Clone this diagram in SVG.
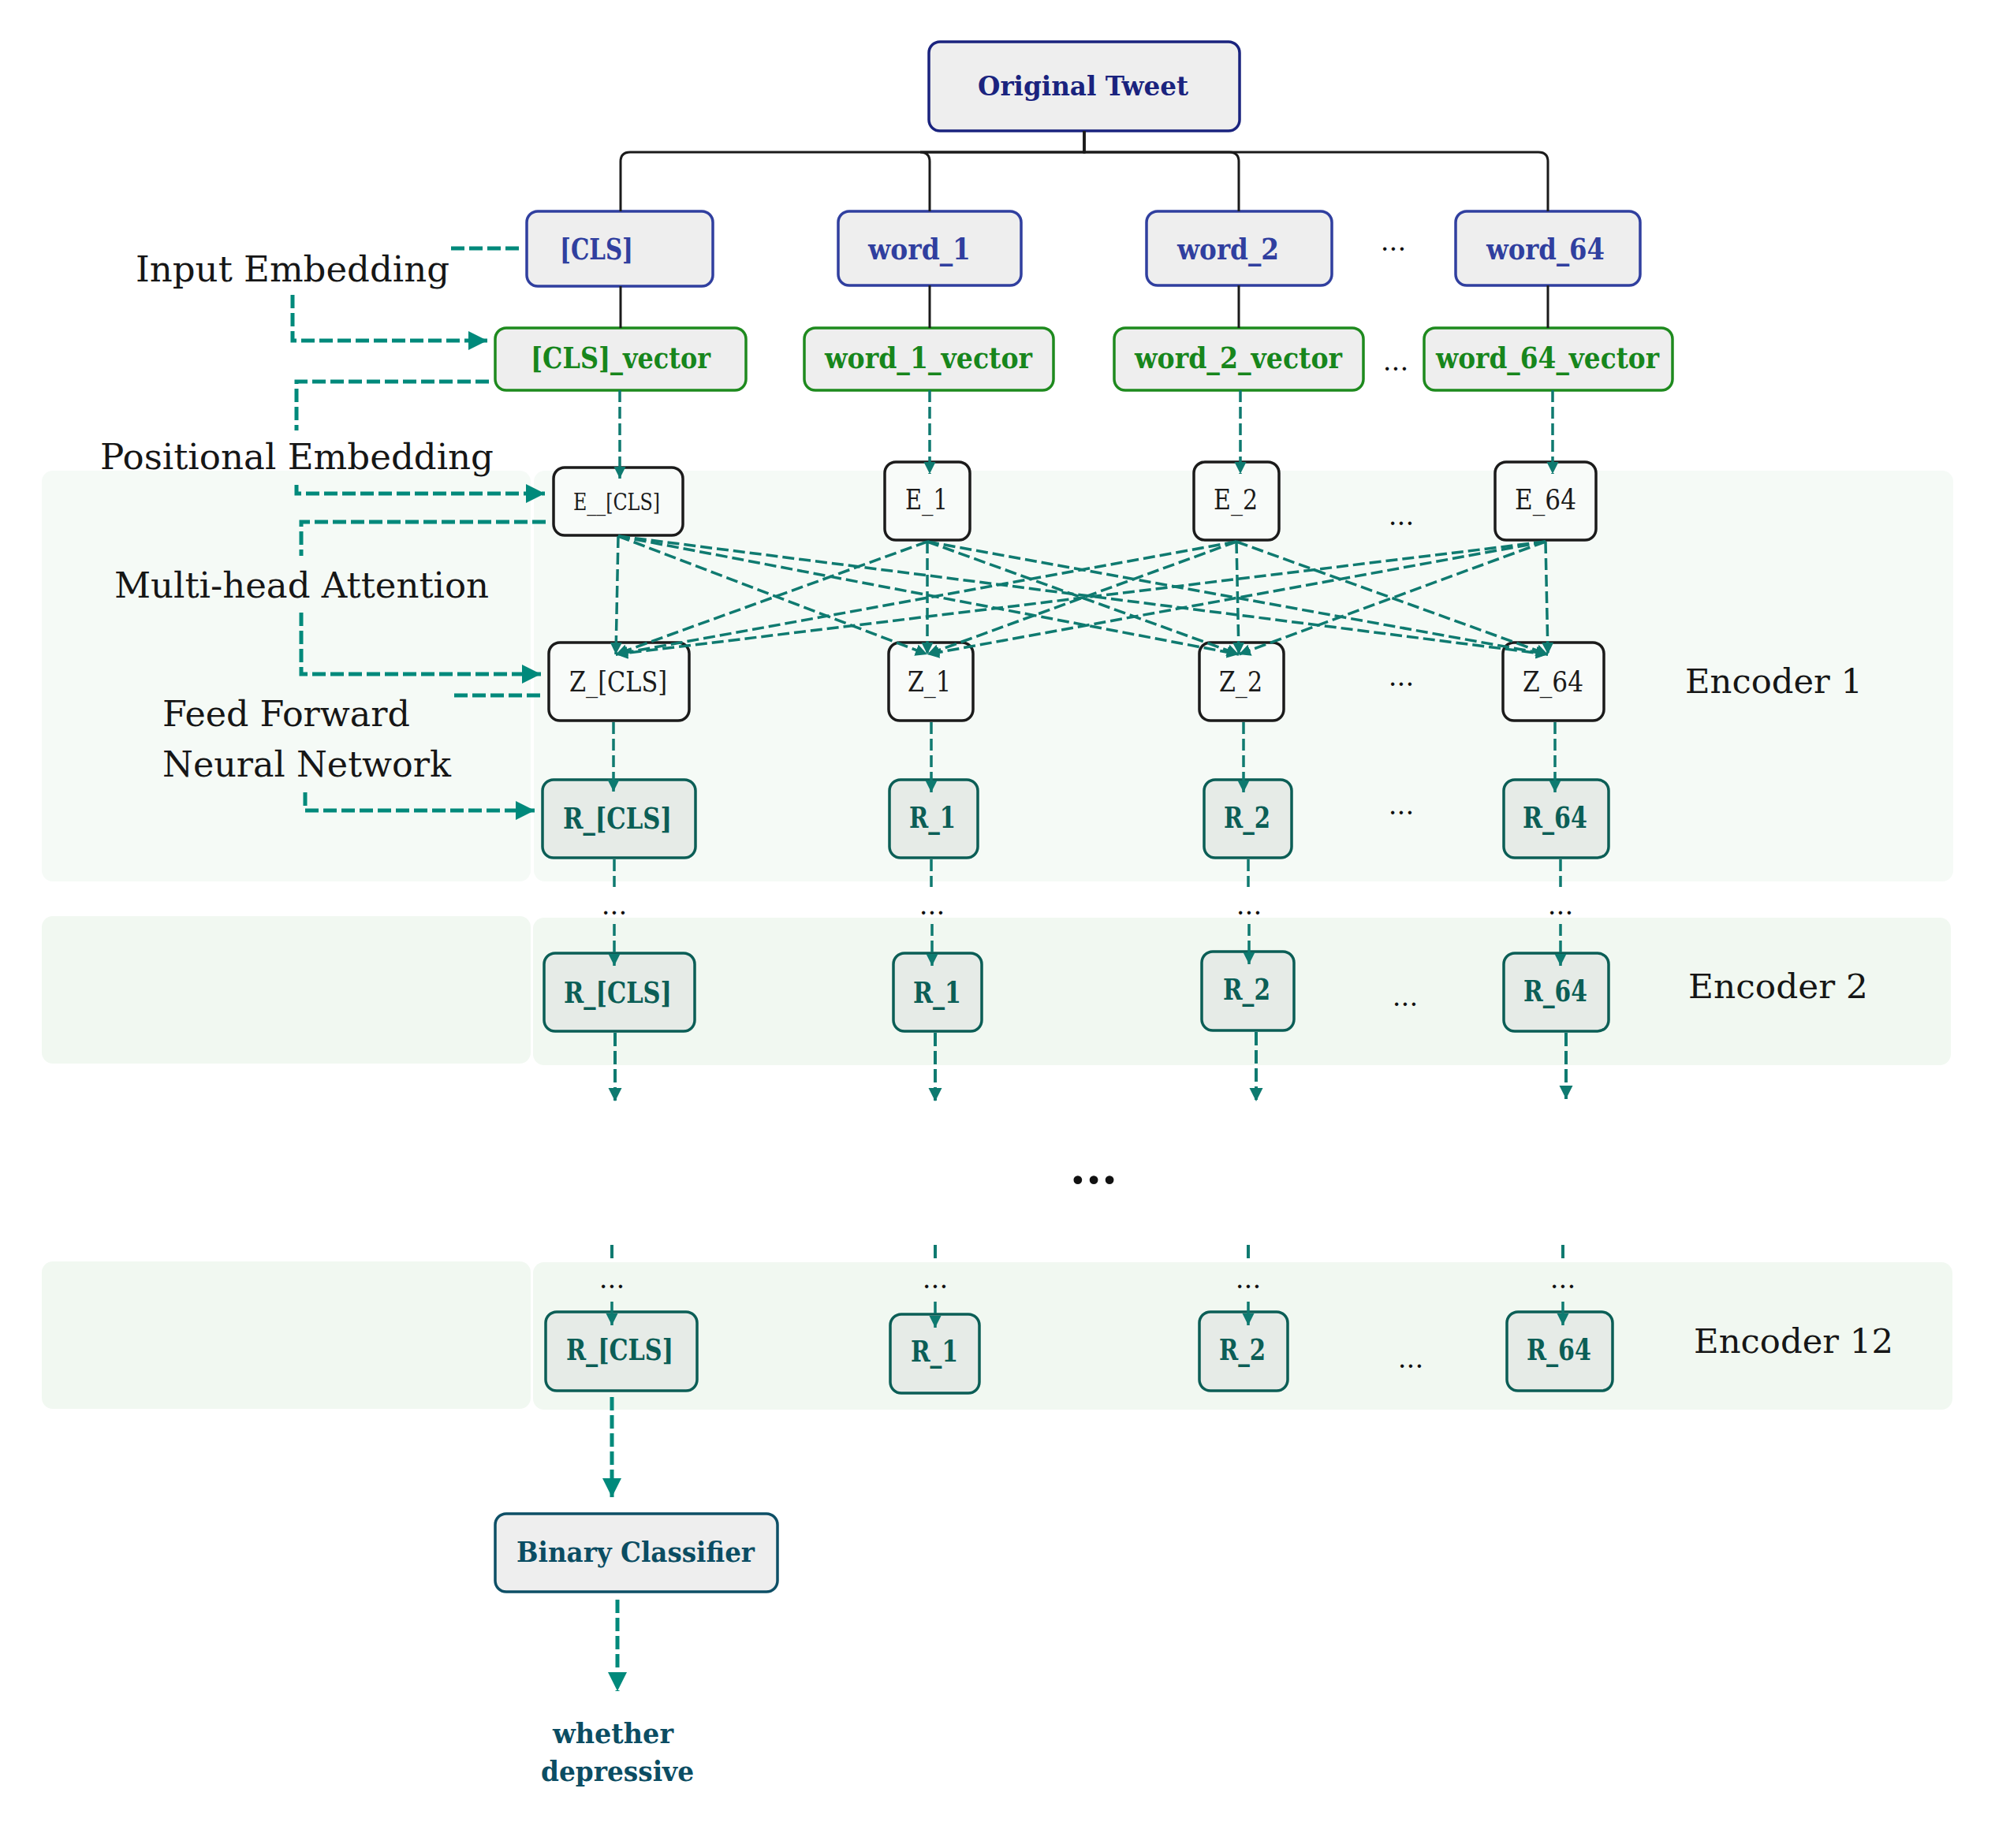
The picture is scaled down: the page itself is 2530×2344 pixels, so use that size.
<svg xmlns="http://www.w3.org/2000/svg" width="2530" height="2344" viewBox="0 0 2530 2344">
  <defs>
    <style>
      text { font-family: "DejaVu Serif", "Liberation Serif", serif; }
      .lbl { font-size: 45px; fill: #161616; }
      .enc { font-size: 42px; fill: #161616; }
      .dots { font-size: 34px; fill: #111111; text-anchor: middle; }
      .panel1 { fill: #f5faf6; }
      .panel2 { fill: #f1f8f1; }
      .tweet rect { fill: #eeeeee; stroke: #1a237e; stroke-width: 3.5; }
      .tweet text { fill: #1a237e; font-size: 34px; font-weight: bold; }
      .word rect { fill: #eeeeee; stroke: #303f9f; stroke-width: 3.5; }
      .word text { fill: #303f9f; font-size: 37px; font-weight: bold; }
      .vec rect { fill: #eeeeee; stroke: #1e8a1e; stroke-width: 3.5; }
      .vec text { fill: #17861c; font-size: 37px; font-weight: bold; }
      .ez rect { fill: #f8fbf9; stroke: #1b1b1b; stroke-width: 3.5; }
      .ez text { fill: #1b1b1b; font-size: 35px; }
      .r rect { fill: #e6ebe7; stroke: #0b5e56; stroke-width: 3.5; }
      .r text { fill: #0b5e56; font-size: 37px; font-weight: bold; }
      .bc rect { fill: #eeeeee; stroke: #0d4f66; stroke-width: 3.5; }
      .bc text, .out { fill: #0b4d63; font-size: 36px; font-weight: bold; }
      .tree { stroke: #1b1b1b; stroke-width: 3; fill: none; }
      .thin { stroke: #0f7a70; stroke-width: 3.5; stroke-dasharray: 15 6; fill: none; }
      .mid { stroke: #0f7a70; stroke-width: 4; stroke-dasharray: 17 6; fill: none; }
      .thick { stroke: #00897b; stroke-width: 5; stroke-dasharray: 17 6; fill: none; }
    </style>
    <marker id="arrS" markerUnits="userSpaceOnUse" markerWidth="16" markerHeight="16" refX="15" refY="7.5" orient="auto">
      <path d="M0,0 L15,7.5 L0,15 z" fill="#0e7a70"/>
    </marker>
    <marker id="arrM" markerUnits="userSpaceOnUse" markerWidth="18" markerHeight="18" refX="17" refY="8.5" orient="auto">
      <path d="M0,0 L17,8.5 L0,17 z" fill="#0e7a70"/>
    </marker>
    <marker id="arrL" markerUnits="userSpaceOnUse" markerWidth="25" markerHeight="25" refX="24" refY="12" orient="auto">
      <path d="M0,0 L24,12 L0,24 z" fill="#00897b"/>
    </marker>
  </defs>

  <rect width="2530" height="2344" fill="#ffffff"/>

  <!-- encoder panels -->
  <g id="panels">
    <rect class="panel1" x="53" y="597" width="620" height="521" rx="14"/>
    <rect class="panel1" x="677" y="597" width="1800" height="521" rx="14"/>
    <rect class="panel2" x="53" y="1162" width="620" height="187" rx="14"/>
    <rect class="panel2" x="676" y="1164" width="1798" height="187" rx="14"/>
    <rect class="panel2" x="53" y="1600" width="620" height="187" rx="14"/>
    <rect class="panel2" x="676" y="1601" width="1800" height="187" rx="14"/>
  </g>

  <!-- side labels -->
  <g id="labels">
    <text class="lbl" x="172" y="357" textLength="398" lengthAdjust="spacingAndGlyphs">Input Embedding</text>
    <text class="lbl" x="127" y="595" textLength="499" lengthAdjust="spacingAndGlyphs">Positional Embedding</text>
    <text class="lbl" x="145" y="758" textLength="475" lengthAdjust="spacingAndGlyphs">Multi-head Attention</text>
    <text class="lbl" x="206" y="921" textLength="314" lengthAdjust="spacingAndGlyphs">Feed Forward</text>
    <text class="lbl" x="206" y="985" textLength="366" lengthAdjust="spacingAndGlyphs">Neural Network</text>
    <text class="enc" x="2137" y="879" textLength="225" lengthAdjust="spacingAndGlyphs">Encoder 1</text>
    <text class="enc" x="2141" y="1266" textLength="228" lengthAdjust="spacingAndGlyphs">Encoder 2</text>
    <text class="enc" x="2148" y="1716" textLength="253" lengthAdjust="spacingAndGlyphs">Encoder 12</text>
  </g>

  <!-- input -->
  <g id="tweet" class="tweet">
    <rect x="1178" y="53" width="394" height="113" rx="14"/>
    <text x="1240" y="121" textLength="267" lengthAdjust="spacingAndGlyphs">Original Tweet</text>
  </g>

  <!-- tokens -->
  <g id="tok-cls" class="word">
    <rect x="668" y="268" width="236" height="95" rx="14"/>
    <text x="710" y="329" textLength="93" lengthAdjust="spacingAndGlyphs">[CLS]</text>
  </g>
  <g id="tok-1" class="word">
    <rect x="1063" y="268" width="232" height="94" rx="14"/>
    <text x="1101" y="329" textLength="130" lengthAdjust="spacingAndGlyphs">word_1</text>
  </g>
  <g id="tok-2" class="word">
    <rect x="1454" y="268" width="235" height="94" rx="14"/>
    <text x="1493" y="329" textLength="129" lengthAdjust="spacingAndGlyphs">word_2</text>
  </g>
  <g id="tok-64" class="word">
    <rect x="1846" y="268" width="234" height="94" rx="14"/>
    <text x="1885" y="329" textLength="150" lengthAdjust="spacingAndGlyphs">word_64</text>
  </g>
  <text class="dots" x="1767" y="318">...</text>

  <!-- token vectors -->
  <g id="vec-cls" class="vec">
    <rect x="628" y="416" width="318" height="79" rx="14"/>
    <text x="673" y="467" textLength="228" lengthAdjust="spacingAndGlyphs">[CLS]_vector</text>
  </g>
  <g id="vec-1" class="vec">
    <rect x="1020" y="416" width="316" height="79" rx="14"/>
    <text x="1046" y="467" textLength="263" lengthAdjust="spacingAndGlyphs">word_1_vector</text>
  </g>
  <g id="vec-2" class="vec">
    <rect x="1413" y="416" width="316" height="79" rx="14"/>
    <text x="1439" y="467" textLength="263" lengthAdjust="spacingAndGlyphs">word_2_vector</text>
  </g>
  <g id="vec-64" class="vec">
    <rect x="1806" y="416" width="315" height="79" rx="14"/>
    <text x="1821" y="467" textLength="283" lengthAdjust="spacingAndGlyphs">word_64_vector</text>
  </g>
  <text class="dots" x="1770" y="470">...</text>

  <!-- embeddings -->
  <g id="e-cls" class="ez">
    <rect x="702" y="593" width="164" height="86" rx="14"/>
    <text x="727" y="647" style="font-size:30px" textLength="110" lengthAdjust="spacingAndGlyphs">E__[CLS]</text>
  </g>
  <g id="e-1" class="ez">
    <rect x="1122" y="586" width="108" height="99" rx="14"/>
    <text x="1148" y="646" textLength="54" lengthAdjust="spacingAndGlyphs">E_1</text>
  </g>
  <g id="e-2" class="ez">
    <rect x="1514" y="586" width="108" height="99" rx="14"/>
    <text x="1539" y="646" textLength="56" lengthAdjust="spacingAndGlyphs">E_2</text>
  </g>
  <g id="e-64" class="ez">
    <rect x="1896" y="586" width="128" height="99" rx="14"/>
    <text x="1921" y="646" textLength="78" lengthAdjust="spacingAndGlyphs">E_64</text>
  </g>
  <text class="dots" x="1777" y="666">...</text>

  <!-- attention outputs -->
  <g id="z-cls" class="ez">
    <rect x="696" y="815" width="178" height="99" rx="14"/>
    <text x="722" y="877" textLength="124" lengthAdjust="spacingAndGlyphs">Z_[CLS]</text>
  </g>
  <g id="z-1" class="ez">
    <rect x="1127" y="815" width="107" height="99" rx="14"/>
    <text x="1151" y="877" textLength="55" lengthAdjust="spacingAndGlyphs">Z_1</text>
  </g>
  <g id="z-2" class="ez">
    <rect x="1521" y="815" width="107" height="99" rx="14"/>
    <text x="1546" y="877" textLength="55" lengthAdjust="spacingAndGlyphs">Z_2</text>
  </g>
  <g id="z-64" class="ez">
    <rect x="1906" y="815" width="128" height="99" rx="14"/>
    <text x="1931" y="877" textLength="77" lengthAdjust="spacingAndGlyphs">Z_64</text>
  </g>
  <text class="dots" x="1777" y="870">...</text>

  <!-- encoder 1 outputs -->
  <g id="r1-cls" class="r">
    <rect x="688" y="989" width="194" height="99" rx="14"/>
    <text x="714" y="1051" textLength="138" lengthAdjust="spacingAndGlyphs">R_[CLS]</text>
  </g>
  <g id="r1-1" class="r">
    <rect x="1128" y="989" width="112" height="99" rx="14"/>
    <text x="1153" y="1050" textLength="59" lengthAdjust="spacingAndGlyphs">R_1</text>
  </g>
  <g id="r1-2" class="r">
    <rect x="1527" y="989" width="111" height="99" rx="14"/>
    <text x="1552" y="1050" textLength="59" lengthAdjust="spacingAndGlyphs">R_2</text>
  </g>
  <g id="r1-64" class="r">
    <rect x="1907" y="989" width="133" height="99" rx="14"/>
    <text x="1931" y="1050" textLength="82" lengthAdjust="spacingAndGlyphs">R_64</text>
  </g>
  <text class="dots" x="1777" y="1033">...</text>

  <!-- encoder 2 -->
  <text class="dots" x="779" y="1160">...</text>
  <text class="dots" x="1182" y="1160">...</text>
  <text class="dots" x="1584" y="1160">...</text>
  <text class="dots" x="1979" y="1160">...</text>
  <g id="r2-cls" class="r">
    <rect x="690" y="1209" width="191" height="99" rx="14"/>
    <text x="715" y="1272" textLength="137" lengthAdjust="spacingAndGlyphs">R_[CLS]</text>
  </g>
  <g id="r2-1" class="r">
    <rect x="1133" y="1209" width="112" height="99" rx="14"/>
    <text x="1158" y="1272" textLength="61" lengthAdjust="spacingAndGlyphs">R_1</text>
  </g>
  <g id="r2-2" class="r">
    <rect x="1524" y="1207" width="117" height="100" rx="14"/>
    <text x="1551" y="1268" textLength="60" lengthAdjust="spacingAndGlyphs">R_2</text>
  </g>
  <g id="r2-64" class="r">
    <rect x="1907" y="1209" width="133" height="99" rx="14"/>
    <text x="1932" y="1270" textLength="81" lengthAdjust="spacingAndGlyphs">R_64</text>
  </g>
  <text class="dots" x="1782" y="1276">...</text>

  <!-- skipped encoders -->
  <text x="1387" y="1501" style="font-size:58px; font-weight:bold; fill:#111111; text-anchor:middle">...</text>

  <!-- encoder 12 -->
  <text class="dots" x="776" y="1634">...</text>
  <text class="dots" x="1186" y="1634">...</text>
  <text class="dots" x="1583" y="1634">...</text>
  <text class="dots" x="1982" y="1634">...</text>
  <g id="r12-cls" class="r">
    <rect x="692" y="1664" width="192" height="100" rx="14"/>
    <text x="718" y="1725" textLength="136" lengthAdjust="spacingAndGlyphs">R_[CLS]</text>
  </g>
  <g id="r12-1" class="r">
    <rect x="1129" y="1667" width="113" height="100" rx="14"/>
    <text x="1155" y="1727" textLength="60" lengthAdjust="spacingAndGlyphs">R_1</text>
  </g>
  <g id="r12-2" class="r">
    <rect x="1521" y="1664" width="112" height="100" rx="14"/>
    <text x="1546" y="1725" textLength="59" lengthAdjust="spacingAndGlyphs">R_2</text>
  </g>
  <g id="r12-64" class="r">
    <rect x="1911" y="1664" width="134" height="100" rx="14"/>
    <text x="1936" y="1725" textLength="82" lengthAdjust="spacingAndGlyphs">R_64</text>
  </g>
  <text class="dots" x="1789" y="1735">...</text>

  <!-- classifier -->
  <g id="classifier" class="bc">
    <rect x="628" y="1920" width="358" height="99" rx="14"/>
    <text x="655" y="1981" textLength="302" lengthAdjust="spacingAndGlyphs">Binary Classifier</text>
  </g>
  <g id="output">
    <text class="out" x="701" y="2211" textLength="153" lengthAdjust="spacingAndGlyphs">whether</text>
    <text class="out" x="686" y="2259" textLength="194" lengthAdjust="spacingAndGlyphs">depressive</text>
  </g>

  <!-- connectors (drawn last so arrowheads sit over box edges) -->
  <g id="connectors">
    <!-- tweet split into tokens -->
    <path class="tree" d="M1375,166 V193 H799 Q787,193 787,205 V268"/>
    <path class="tree" d="M1375,166 V193 H1167 Q1179,193 1179,205 V268"/>
    <path class="tree" d="M1375,166 V193 H1559 Q1571,193 1571,205 V268"/>
    <path class="tree" d="M1375,166 V193 H1951 Q1963,193 1963,205 V268"/>
    <path class="tree" d="M787,363 V416 M1179,362 V416 M1571,362 V416 M1963,362 V416"/>

    <!-- token vectors into embeddings -->
    <path class="thin" d="M786,495 V607" marker-end="url(#arrS)"/>
    <path class="thin" d="M1179,495 V601" marker-end="url(#arrS)"/>
    <path class="thin" d="M1573,495 V601" marker-end="url(#arrS)"/>
    <path class="thin" d="M1969,495 V601" marker-end="url(#arrS)"/>

    <!-- self attention: every embedding to every Z -->
    <path class="thin" d="M784,680 L781,830" marker-end="url(#arrS)"/>
    <path class="thin" d="M784,680 L1176,830" marker-end="url(#arrS)"/>
    <path class="thin" d="M784,680 L1571,830" marker-end="url(#arrS)"/>
    <path class="thin" d="M784,680 L1963,830" marker-end="url(#arrS)"/>
    <path class="thin" d="M1176,687 L781,830" marker-end="url(#arrS)"/>
    <path class="thin" d="M1176,687 L1176,830" marker-end="url(#arrS)"/>
    <path class="thin" d="M1176,687 L1571,830" marker-end="url(#arrS)"/>
    <path class="thin" d="M1176,687 L1963,830" marker-end="url(#arrS)"/>
    <path class="thin" d="M1568,687 L781,830" marker-end="url(#arrS)"/>
    <path class="thin" d="M1568,687 L1176,830" marker-end="url(#arrS)"/>
    <path class="thin" d="M1568,687 L1571,830" marker-end="url(#arrS)"/>
    <path class="thin" d="M1568,687 L1963,830" marker-end="url(#arrS)"/>
    <path class="thin" d="M1960,687 L781,830" marker-end="url(#arrS)"/>
    <path class="thin" d="M1960,687 L1176,830" marker-end="url(#arrS)"/>
    <path class="thin" d="M1960,687 L1571,830" marker-end="url(#arrS)"/>
    <path class="thin" d="M1960,687 L1963,830" marker-end="url(#arrS)"/>

    <!-- Z to R (feed forward) -->
    <path class="thin" d="M778,916 V1004" marker-end="url(#arrS)"/>
    <path class="thin" d="M1181,916 V1005" marker-end="url(#arrS)"/>
    <path class="thin" d="M1577,916 V1005" marker-end="url(#arrS)"/>
    <path class="thin" d="M1972,916 V1005" marker-end="url(#arrS)"/>

    <!-- encoder 1 to encoder 2 -->
    <path class="thin" d="M779,1090 V1125 M1181,1090 V1125 M1583,1090 V1125 M1979,1090 V1125"/>
    <path class="thin" d="M779,1172 V1225" marker-end="url(#arrS)"/>
    <path class="thin" d="M1182,1172 V1225" marker-end="url(#arrS)"/>
    <path class="thin" d="M1584,1172 V1223" marker-end="url(#arrS)"/>
    <path class="thin" d="M1979,1172 V1225" marker-end="url(#arrS)"/>

    <!-- encoder 2 outputs -->
    <path class="mid" d="M780,1310 V1397" marker-end="url(#arrM)"/>
    <path class="mid" d="M1186,1310 V1397" marker-end="url(#arrM)"/>
    <path class="mid" d="M1593,1309 V1397" marker-end="url(#arrM)"/>
    <path class="mid" d="M1986,1310 V1394" marker-end="url(#arrM)"/>

    <!-- into encoder 12 -->
    <path class="mid" d="M776,1579 V1597 M1186,1579 V1597 M1583,1579 V1597 M1982,1579 V1597"/>
    <path class="thin" d="M776,1651 V1681" marker-end="url(#arrS)"/>
    <path class="thin" d="M1186,1651 V1684" marker-end="url(#arrS)"/>
    <path class="thin" d="M1583,1651 V1681" marker-end="url(#arrS)"/>
    <path class="thin" d="M1982,1651 V1681" marker-end="url(#arrS)"/>

    <!-- classifier head -->
    <path class="thick" d="M776,1772 V1899" marker-end="url(#arrL)"/>
    <path class="thick" d="M783,2029 V2145" marker-end="url(#arrL)"/>

    <!-- side label pointers -->
    <path class="thick" d="M572,315 H659"/>
    <path class="thick" d="M371,374 V432 H618" marker-end="url(#arrL)"/>
    <path class="thick" d="M620,484 H376 V546"/>
    <path class="thick" d="M376,615 V626 H691" marker-end="url(#arrL)"/>
    <path class="thick" d="M692,662 H382 V705"/>
    <path class="thick" d="M382,777 V855 H686" marker-end="url(#arrL)"/>
    <path class="thick" d="M685,882 H572"/>
    <path class="thick" d="M387,1005 V1028 H678" marker-end="url(#arrL)"/>
  </g>
</svg>
